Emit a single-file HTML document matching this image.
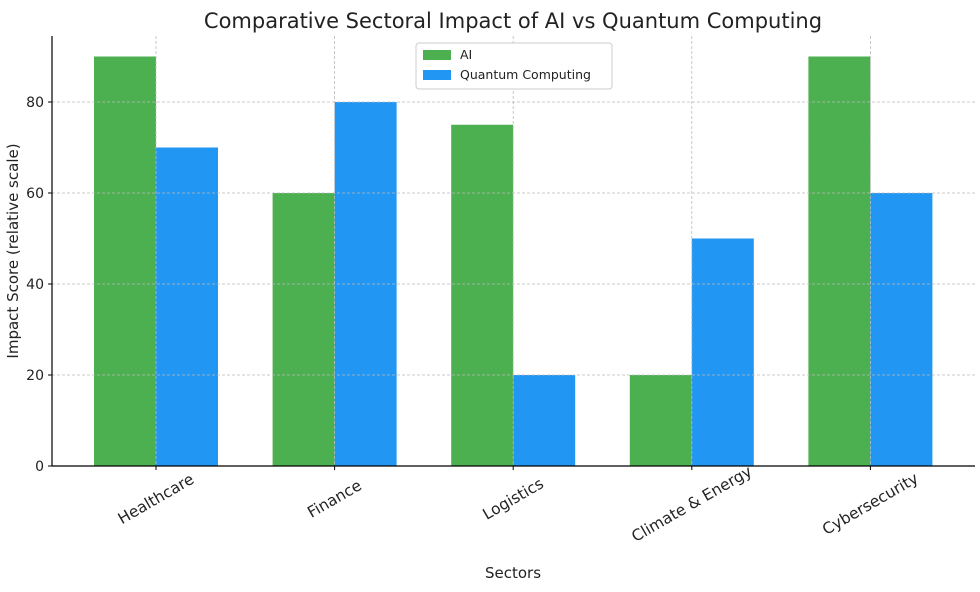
<!DOCTYPE html>
<html><head><meta charset="utf-8"><style>
body{margin:0;background:#fff;}
svg text{font-family:"DejaVu Sans","Liberation Sans",sans-serif;fill:#222;}
</style></head><body>
<svg id="chart" width="980" height="587" xmlns="http://www.w3.org/2000/svg">
<text x="513" y="28" text-anchor="middle" font-size="21">Comparative Sectoral Impact of AI vs Quantum Computing</text>
<g id="bars"></g><g id="grid"></g><g id="axes"></g>
<text x="513" y="578" text-anchor="middle" font-size="15">Sectors</text>
<text transform="translate(18,251) rotate(-90)" text-anchor="middle" font-size="15">Impact Score (relative scale)</text>
<g>
<rect x="416" y="43" width="196" height="46" rx="3" fill="#fff" stroke="#ccc"/>
<rect x="423" y="50" width="28" height="10" fill="#4caf50"/>
<text x="460" y="59" font-size="12.5">AI</text>
<rect x="423" y="70" width="28" height="10" fill="#2196f3"/>
<text x="460" y="79" font-size="12.5">Quantum Computing</text>
</g>
</svg>
<script>
const categories=["Healthcare","Finance","Logistics","Climate & Energy","Cybersecurity"];
const aiValues=[90,60,75,20,90];
const qcValues=[70,80,20,50,60];
const yTicks=[0,20,40,60,80];
const NS="http://www.w3.org/2000/svg";
const x0=52,x1=975,yb=466,yt=36;
const y=v=>yb-v*(yb-102)/80;
const cx=i=>156+i*178.6;
const bw=62;
function el(t,a,p){const e=document.createElementNS(NS,t);for(const k in a)e.setAttribute(k,a[k]);p.appendChild(e);return e;}
const g=document.getElementById('grid'),b=document.getElementById('bars'),ax=document.getElementById('axes');
yTicks.forEach(v=>{
 if(v>0){const l=el('line',{x1:x0,x2:x1,y1:y(v),y2:y(v),stroke:'#bbb','stroke-dasharray':'3,2','stroke-width':0.8},g);
 }
 el('line',{x1:x0-4,x2:x0,y1:y(v),y2:y(v),stroke:'#000'},ax);
 const t=el('text',{x:x0-8,y:y(v)+5,'text-anchor':'end','font-size':'14'},ax);t.textContent=v;
 
});
categories.forEach((c,i)=>{
 const gl=el('line',{x1:cx(i),x2:cx(i),y1:yt,y2:yb,stroke:'#bbb','stroke-dasharray':'3,2','stroke-width':0.8},g);
 
 const r1=el('rect',{x:cx(i)-bw,y:y(aiValues[i]),width:bw,height:yb-y(aiValues[i]),fill:'#4caf50'},b);
 
 const r2=el('rect',{x:cx(i),y:y(qcValues[i]),width:bw,height:yb-y(qcValues[i]),fill:'#2196f3'},b);
 
 el('line',{x1:cx(i),x2:cx(i),y1:yb,y2:yb+4,stroke:'#000'},ax);
 const ty=c.length>12?504:499;
 const t=el('text',{x:cx(i),y:ty+5,'text-anchor':'middle','font-size':'15.5',transform:`rotate(-30 ${cx(i)} ${ty})`},ax);t.textContent=c;
 
});
el('line',{x1:x0,x2:x0,y1:yt,y2:yb,stroke:'#000','stroke-width':1.2},ax);
el('line',{x1:x0,x2:x1,y1:yb,y2:yb,stroke:'#000','stroke-width':1.2},ax);
</script>
</body></html>
